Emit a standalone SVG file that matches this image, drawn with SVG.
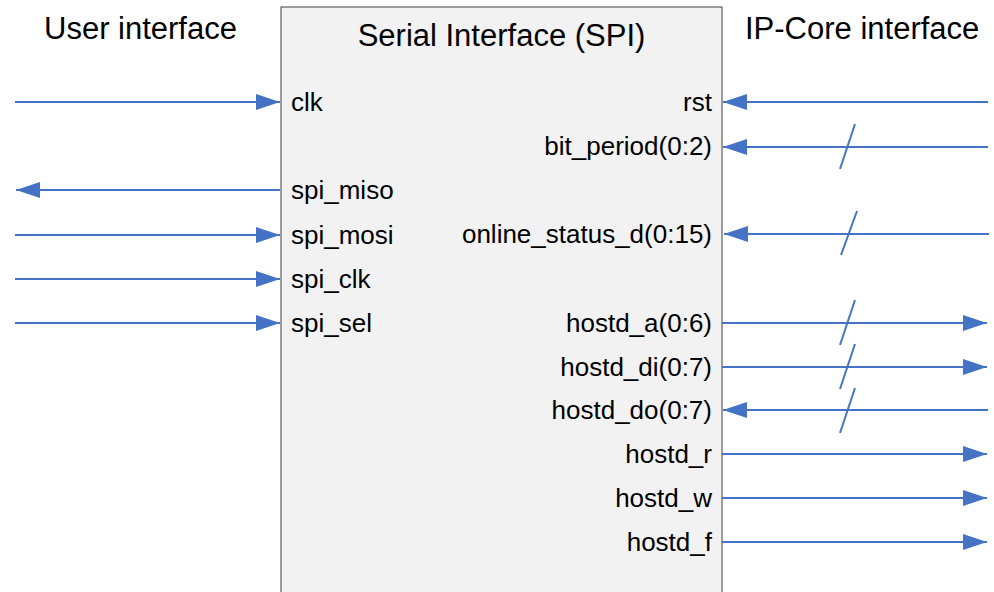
<svg xmlns="http://www.w3.org/2000/svg" width="994" height="592" viewBox="0 0 994 592">
<defs>
<marker id="ah" viewBox="0 0 24 16" refX="24" refY="8" markerWidth="24" markerHeight="16" markerUnits="userSpaceOnUse" orient="auto">
<path d="M0,0 L24,8 L0,16 Z" fill="#4472c4"/>
</marker>
<style>
.t{font-family:"Liberation Sans",Arial,sans-serif;fill:#000}
.h{font-size:31px}
.p{font-size:26px}
.r{text-anchor:end}
.c line{stroke:#4472c4;stroke-width:2;fill:none}
.a{marker-end:url(#ah)}
</style>
</defs>
<rect width="994" height="592" fill="#fff"/>
<text class="t h" x="44" y="39">User interface</text>
<text class="t h" x="745" y="39">IP-Core interface</text>
<g id="spi">
<rect x="281" y="7" width="441" height="600" fill="#f2f2f2" stroke="#404040" stroke-width="1"/>
<text class="t h" x="501.5" y="46" text-anchor="middle">Serial Interface (SPI)</text>
<text class="t p" x="291" y="111">clk</text>
<text class="t p" x="291" y="199">spi_miso</text>
<text class="t p" x="291" y="244">spi_mosi</text>
<text class="t p" x="291" y="288">spi_clk</text>
<text class="t p" x="291" y="332">spi_sel</text>
<text class="t p r" x="712" y="111">rst</text>
<text class="t p r" x="712" y="155">bit_period(0:2)</text>
<text class="t p r" x="712" y="243">online_status_d(0:15)</text>
<text class="t p r" x="712" y="332">hostd_a(0:6)</text>
<text class="t p r" x="712" y="376">hostd_di(0:7)</text>
<text class="t p r" x="712" y="419">hostd_do(0:7)</text>
<text class="t p r" x="712" y="463">hostd_r</text>
<text class="t p r" x="712" y="507">hostd_w</text>
<text class="t p r" x="712" y="551">hostd_f</text>
</g>
<g id="connectors" class="c">
<line class="a" x1="15" y1="102" x2="280" y2="102"/>
<line class="a" x1="280" y1="190" x2="16" y2="190"/>
<line class="a" x1="15" y1="235" x2="280" y2="235"/>
<line class="a" x1="15" y1="279" x2="280" y2="279"/>
<line class="a" x1="15" y1="323" x2="280" y2="323"/>
<line class="a" x1="988" y1="102" x2="723" y2="102"/>
<line class="a" x1="988" y1="147" x2="723" y2="147"/>
<line class="a" x1="989" y1="234" x2="724" y2="234"/>
<line class="a" x1="722" y1="323" x2="987" y2="323"/>
<line class="a" x1="722" y1="367" x2="987" y2="367"/>
<line class="a" x1="988" y1="410" x2="723" y2="410"/>
<line class="a" x1="722" y1="454" x2="987" y2="454"/>
<line class="a" x1="722" y1="498" x2="987" y2="498"/>
<line class="a" x1="722" y1="542" x2="987" y2="542"/>
<line x1="840" y1="169" x2="855" y2="124"/>
<line x1="841" y1="255" x2="857" y2="211"/>
<line x1="840" y1="345" x2="855" y2="300"/>
<line x1="840" y1="389" x2="855" y2="344"/>
<line x1="840" y1="433" x2="855" y2="388"/>
</g>
</svg>
